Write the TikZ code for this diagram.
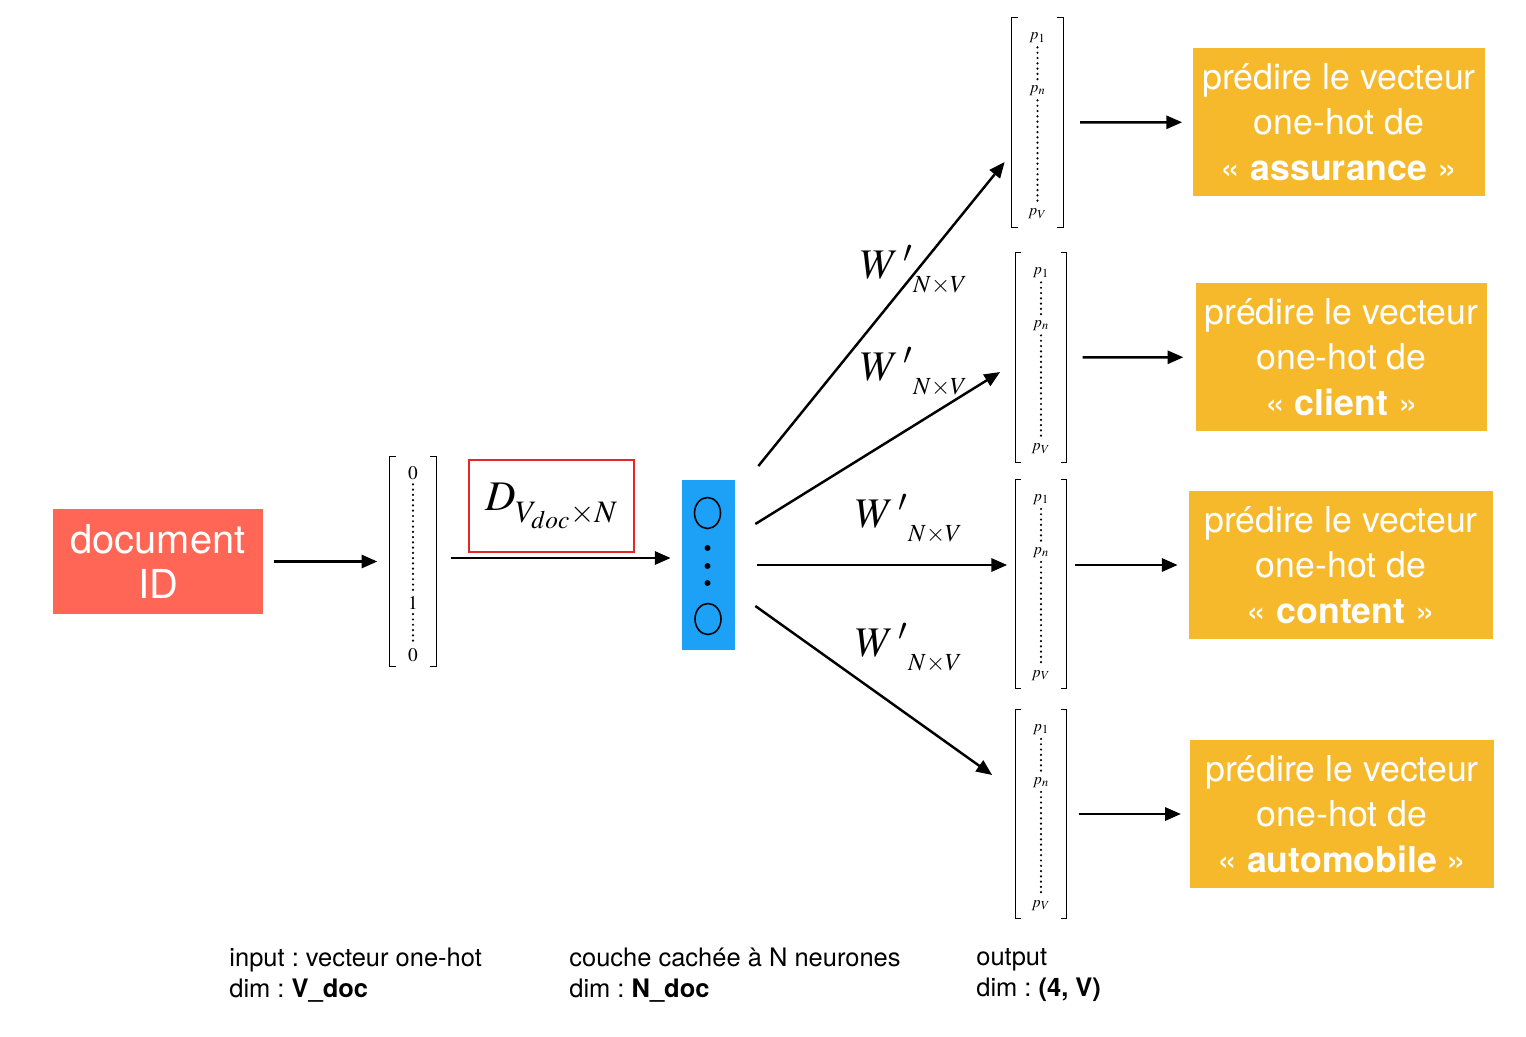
\documentclass[tikz,border=0pt]{standalone}
\usepackage{mathptmx}
\usepackage[no-math]{fontspec}
\setmainfont{TeX Gyre Heros}
\frenchspacing
\usetikzlibrary{arrows.meta,calc,shapes.geometric}
\definecolor{docred}{HTML}{FF6655}
\definecolor{hidblue}{HTML}{1DA1F7}
\definecolor{predorange}{HTML}{F6B92B}
\definecolor{boxred}{HTML}{E8262A}
\newcommand{\wmat}{$W\,'$\raisebox{-8pt}{\fontsize{14}{16}\selectfont$N{\times}V$}}

\begin{document}
\begin{tikzpicture}[x=0.02cm,y=-0.02cm,
  arr/.style={-{Triangle[length=9pt,width=7.5pt]},line width=1.4pt},
  brk/.style={line width=0.7pt},
  vdot/.style={line width=1.4pt,line cap=round,dash pattern=on 0pt off 3pt,shorten <=1.5pt,shorten >=1.5pt},
  vecbox/.style={minimum width=1.02cm,minimum height=4.18cm,inner sep=0pt},
  entry/.style={font=\fontsize{9}{10}\selectfont,inner sep=1pt},
  digit/.style={font=\fontsize{11}{12}\selectfont,inner sep=1pt},
  neuron/.style={draw,ellipse,line width=0.9pt,minimum width=0.52cm,minimum height=0.62cm,inner sep=0pt},
  pred/.style={fill=predorange,text=white,align=center,minimum height=2.96cm,inner sep=0pt,font=\fontsize{20.3}{26}\selectfont},
  wlab/.style={font=\fontsize{24}{28}\selectfont,inner sep=0pt},
  legend/.style={anchor=north west,align=left,inner sep=0pt,font=\fontsize{14.5}{17.6}\selectfont}]
\useasboundingbox (0,0) rectangle (1526,1036);

\node[fill=docred,text=white,align=center,minimum width=4.2cm,minimum height=2.1cm,inner sep=0pt,font=\fontsize{22.7}{26}\selectfont] (doc) at (158,561.5) {document\\ID};

\node[vecbox,minimum width=0.92cm] (invec) at (413,561.5) {};
\node[digit] (in0) at (413,473) {$0$};
\node[digit] (in1) at (413,603) {$1$};
\node[digit] (inz) at (413,655) {$0$};
\draw[vdot] (in0) -- (in1);
\draw[vdot] (in1) -- (inz);

\node[draw=boxred,line width=1.2pt,minimum width=3.3cm,minimum height=1.84cm,font=\fontsize{24}{28}\selectfont] (Dbox) at (551.5,506) {$D_{\raisebox{-3pt}{$\scriptstyle V_{doc}\times N$}}$};

\node[fill=hidblue,minimum width=1.06cm,minimum height=3.4cm,inner sep=0pt] (hid) at (708.5,565) {};
\node[neuron] (n1) at (707.5,513) {};
\node[neuron] (n2) at (708,619) {};
\foreach \y/\k in {548/a,566/b,583/c}
  \node[circle,fill,inner sep=0pt,minimum size=0.12cm] (hd\k) at (707.5,\y) {};

\node[vecbox] (o1) at (1037.5,122.5) {};
\node[vecbox] (o2) at (1041,357.5) {};
\node[vecbox] (o3) at (1041,584) {};
\node[vecbox] (o4) at (1041,814) {};

\foreach \v in {invec,o1,o2,o3,o4}{
  \draw[brk] ($(\v.north west)+(6,0)$) -- (\v.north west) -- (\v.south west) -- ++(6,0);
  \draw[brk] ($(\v.north east)+(-6,0)$) -- (\v.north east) -- (\v.south east) -- ++(-6,0);
}
\foreach \v in {o1,o2,o3,o4}{
  \node[entry] (\v-1) at ($(\v.north)+(0,20)$) {$p_1$};
  \node[entry] (\v-n) at ($(\v.north)+(0,73)$) {$p_n$};
  \node[entry] (\v-V) at ($(\v.north)+(0,196)$) {$p_V$};
  \draw[vdot] (\v-1) -- (\v-n);
  \draw[vdot] (\v-n) -- (\v-V);
}

\node[pred,minimum width=5.84cm] (p1) at (1339,122) {prédire le vecteur\\one-hot de\\« \textbf{assurance} »};
\node[pred,minimum width=5.82cm] (p2) at (1341.5,357) {prédire le vecteur\\one-hot de\\« \textbf{client} »};
\node[pred,minimum width=6.08cm] (p3) at (1341,565) {prédire le vecteur\\one-hot de\\« \textbf{content} »};
\node[pred,minimum width=6.08cm] (p4) at (1342,814) {prédire le vecteur\\one-hot de\\« \textbf{automobile} »};

\node[wlab] (w1) at (914,270) {\wmat};
\node[wlab] (w2) at (914,372) {\wmat};
\node[wlab] (w3) at (909,519) {\wmat};
\node[wlab] (w4) at (909,648) {\wmat};

\coordinate (s1) at ($(hid.east)+(23,-99)$);
\coordinate (s2) at ($(hid.east)+(20,-41)$);
\coordinate (s3) at ($(hid.east)+(22,0)$);
\coordinate (s4) at ($(hid.east)+(20,41)$);
\coordinate (e1) at ($(o1.west)+(-7,39.5)$);
\coordinate (e2) at ($(o2.west)+(-15,14.5)$);
\coordinate (e3) at ($(o3.west)+(-8,-19)$);
\coordinate (e4) at ($(o4.west)+(-23,-39)$);

\draw[arr,shorten <=6pt,shorten >=7pt] (doc) -- (invec);
\draw[arr] ($(invec.east)+(15,-3.5)$) -- ($(hid.west)+(-11,-7)$);
\draw[arr] (s1) -- (e1);
\draw[arr] (s2) -- (e2);
\draw[arr] (s3) -- (e3);
\draw[arr] (s4) -- (e4);
\draw[arr,shorten <=9.5pt,shorten >=6pt] (o1) -- (p1);
\draw[arr,shorten <=9pt,shorten >=7pt] (o2) -- (p2);
\draw[arr] ($(o3.east|-p3.west)+(8,0)$) -- ($(p3.west)+(-11,0)$);
\draw[arr,shorten <=7pt,shorten >=5pt] (o4) -- (p4);

\node[legend] (lgin) at (229,948) {input : vecteur one-hot\\dim : \textbf{V\_doc}};
\node[legend] (lghid) at (569,948) {couche cachée à N neurones\\dim : \textbf{N\_doc}};
\node[legend] (lgout) at (976,948) {output\\dim : \textbf{(4, V)}};
\end{tikzpicture}
\end{document}
